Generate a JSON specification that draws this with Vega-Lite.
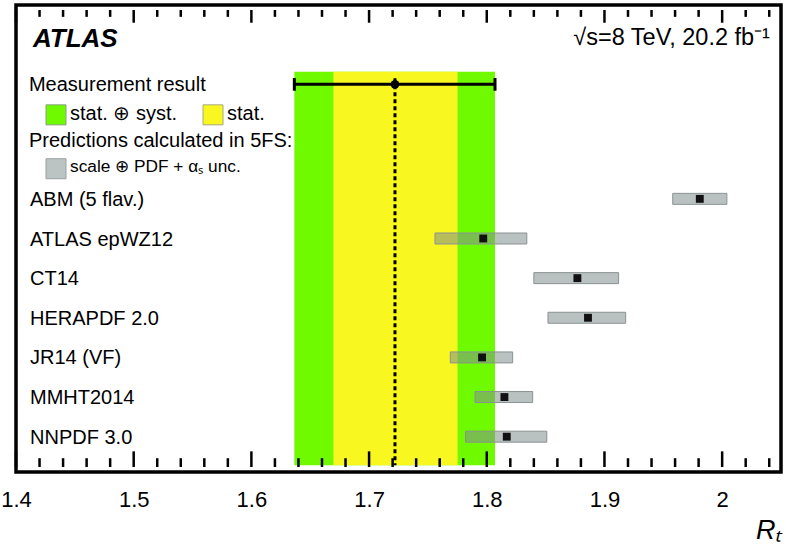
{
  "$schema": "https://vega.github.io/schema/vega-lite/v6.json",
  "width": 765,
  "height": 467,
  "autosize": {"type": "none"},
  "padding": {"left": 16, "top": 5, "right": 5, "bottom": 88},
  "background": "white",
  "config": {
    "font": "Liberation Sans",
    "view": {"stroke": "black", "strokeWidth": 3.5},
    "axis": {"zindex": 1}
  },
  "datasets": {
    "meas": [{"central": 1.722, "tot_lo": 1.6365, "tot_hi": 1.807, "stat_lo": 1.6697, "stat_hi": 1.7752}],
    "pred": [
      {"model": "ABM (5 flav.)", "rank": 1, "central": 1.981, "lo": 1.958, "hi": 2.004},
      {"model": "ATLAS epWZ12", "rank": 2, "central": 1.797, "lo": 1.756, "hi": 1.834},
      {"model": "CT14", "rank": 3, "central": 1.877, "lo": 1.84, "hi": 1.912},
      {"model": "HERAPDF 2.0", "rank": 4, "central": 1.886, "lo": 1.852, "hi": 1.918},
      {"model": "JR14 (VF)", "rank": 5, "central": 1.796, "lo": 1.769, "hi": 1.822},
      {"model": "MMHT2014", "rank": 6, "central": 1.815, "lo": 1.79, "hi": 1.839},
      {"model": "NNPDF 3.0", "rank": 7, "central": 1.817, "lo": 1.782, "hi": 1.851}
    ],
    "major_ticks": [{"v": 1.4}, {"v": 1.5}, {"v": 1.6}, {"v": 1.7}, {"v": 1.8}, {"v": 1.9}, {"v": 2.0}],
    "minor_ticks": [{"v": 1.42}, {"v": 1.44}, {"v": 1.46}, {"v": 1.48}, {"v": 1.52}, {"v": 1.54}, {"v": 1.56}, {"v": 1.58}, {"v": 1.62}, {"v": 1.64}, {"v": 1.66}, {"v": 1.68}, {"v": 1.72}, {"v": 1.74}, {"v": 1.76}, {"v": 1.78}, {"v": 1.82}, {"v": 1.84}, {"v": 1.86}, {"v": 1.88}, {"v": 1.92}, {"v": 1.94}, {"v": 1.96}, {"v": 1.98}, {"v": 2.02}, {"v": 2.04}]
  },
  "layer": [
    {
      "data": {"name": "meas"},
      "mark": {"type": "rect", "color": "#70fa00"},
      "encoding": {
        "x": {"field": "tot_lo", "type": "quantitative",
          "scale": {"domain": [1.4, 2.05], "nice": false, "zero": false},
          "axis": {"orient": "bottom", "values": [1.4, 1.5, 1.6, 1.7, 1.8, 1.9, 2], "format": "~g",
            "ticks": false, "domain": false, "grid": false, "labelFontSize": 22, "labelColor": "black",
            "labelPadding": 17, "labelBaseline": "top", "labelFlush": false, "labelOverlap": false,
            "title": "Rₜ", "titleFontSize": 27, "titleFontStyle": "italic", "titleFontWeight": "normal",
            "titleAnchor": "end", "titleAlign": "right", "titleBaseline": "top", "titlePadding": 7, "titleColor": "black"}},
        "x2": {"field": "tot_hi"},
        "y": {"datum": -2.21, "type": "quantitative", "axis": null,
          "scale": {"domain": [-3.765, 7.765], "reverse": true, "nice": false, "zero": false}},
        "y2": {"datum": 7.72}
      }
    },
    {
      "data": {"name": "meas"},
      "mark": {"type": "rect", "color": "#f8f820"},
      "encoding": {
        "x": {"field": "stat_lo", "type": "quantitative"},
        "x2": {"field": "stat_hi"},
        "y": {"datum": -2.21, "type": "quantitative"},
        "y2": {"datum": 7.72}
      }
    },
    {
      "data": {"name": "major_ticks"},
      "mark": {"type": "rule", "color": "black", "strokeWidth": 2.5},
      "encoding": {
        "x": {"field": "v", "type": "quantitative"},
        "y": {"datum": 7.765, "type": "quantitative"},
        "y2": {"datum": 7.37}
      }
    },
    {
      "data": {"name": "minor_ticks"},
      "mark": {"type": "rule", "color": "black", "strokeWidth": 2.5},
      "encoding": {
        "x": {"field": "v", "type": "quantitative"},
        "y": {"datum": 7.765, "type": "quantitative"},
        "y2": {"datum": 7.543}
      }
    },
    {
      "data": {"name": "major_ticks"},
      "mark": {"type": "rule", "color": "black", "strokeWidth": 2.5},
      "encoding": {
        "x": {"field": "v", "type": "quantitative"},
        "y": {"datum": -3.765, "type": "quantitative"},
        "y2": {"datum": -3.444}
      }
    },
    {
      "data": {"name": "minor_ticks"},
      "mark": {"type": "rule", "color": "black", "strokeWidth": 2.5},
      "encoding": {
        "x": {"field": "v", "type": "quantitative"},
        "y": {"datum": -3.765, "type": "quantitative"},
        "y2": {"datum": -3.592}
      }
    },
    {
      "data": {"name": "meas"},
      "mark": {"type": "rule", "color": "black", "strokeWidth": 3, "strokeDash": [4, 3]},
      "encoding": {
        "x": {"field": "central", "type": "quantitative"},
        "y": {"datum": -2.04, "type": "quantitative"},
        "y2": {"datum": 7.72}
      }
    },
    {
      "data": {"name": "meas"},
      "mark": {"type": "rule", "color": "black", "strokeWidth": 3},
      "encoding": {
        "x": {"field": "tot_lo", "type": "quantitative"},
        "x2": {"field": "tot_hi"},
        "y": {"datum": -1.889, "type": "quantitative"}
      }
    },
    {
      "data": {"name": "meas"},
      "mark": {"type": "rule", "color": "black", "strokeWidth": 3},
      "encoding": {
        "x": {"field": "tot_lo", "type": "quantitative"},
        "y": {"datum": -2.049, "type": "quantitative"},
        "y2": {"datum": -1.728}
      }
    },
    {
      "data": {"name": "meas"},
      "mark": {"type": "rule", "color": "black", "strokeWidth": 3},
      "encoding": {
        "x": {"field": "tot_hi", "type": "quantitative"},
        "y": {"datum": -2.049, "type": "quantitative"},
        "y2": {"datum": -1.728}
      }
    },
    {
      "data": {"name": "meas"},
      "mark": {"type": "point", "shape": "circle", "filled": true, "color": "black", "size": 75, "opacity": 1},
      "encoding": {
        "x": {"field": "central", "type": "quantitative"},
        "y": {"datum": -1.889, "type": "quantitative"}
      }
    },
    {
      "data": {"name": "pred"},
      "mark": {"type": "bar", "orient": "horizontal", "size": 11, "fill": "#7f8e8e", "fillOpacity": 0.55, "stroke": "#8a9292", "strokeWidth": 1},
      "encoding": {
        "x": {"field": "lo", "type": "quantitative"},
        "x2": {"field": "hi"},
        "y": {"field": "rank", "type": "quantitative"}
      }
    },
    {
      "data": {"name": "pred"},
      "mark": {"type": "point", "shape": "square", "filled": true, "color": "#111111", "size": 62, "opacity": 1},
      "encoding": {
        "x": {"field": "central", "type": "quantitative"},
        "y": {"field": "rank", "type": "quantitative"}
      }
    },
    {
      "data": {"name": "pred"},
      "mark": {"type": "text", "align": "left", "baseline": "alphabetic", "dy": 7, "fontSize": 20, "color": "black"},
      "encoding": {
        "x": {"datum": 1.4119, "type": "quantitative"},
        "y": {"field": "rank", "type": "quantitative"},
        "text": {"field": "model"}
      }
    },
    {
      "data": {"name": "meas"},
      "mark": {"type": "text", "text": "ATLAS", "align": "left", "baseline": "alphabetic", "fontSize": 26, "fontWeight": "bold", "fontStyle": "italic", "color": "black"},
      "encoding": {
        "x": {"datum": 1.4144, "type": "quantitative"},
        "y": {"datum": -2.82, "type": "quantitative"}
      }
    },
    {
      "data": {"name": "meas"},
      "mark": {"type": "text", "text": "√s=8 TeV, 20.2 fb⁻¹", "align": "right", "baseline": "alphabetic", "fontSize": 23.5, "color": "black"},
      "encoding": {
        "x": {"datum": 2.0406, "type": "quantitative"},
        "y": {"datum": -2.88, "type": "quantitative"}
      }
    },
    {
      "data": {"name": "meas"},
      "mark": {"type": "text", "text": "Measurement result", "align": "left", "baseline": "alphabetic", "fontSize": 20, "color": "black"},
      "encoding": {
        "x": {"datum": 1.411, "type": "quantitative"},
        "y": {"datum": -1.72, "type": "quantitative"}
      }
    },
    {
      "data": {"name": "meas"},
      "mark": {"type": "point", "shape": "square", "filled": true, "fill": "#70fa00", "stroke": "#8aa080", "strokeWidth": 1, "size": 400, "opacity": 1},
      "encoding": {
        "x": {"datum": 1.434, "type": "quantitative"},
        "y": {"datum": -1.12, "type": "quantitative"}
      }
    },
    {
      "data": {"name": "meas"},
      "mark": {"type": "text", "text": "stat. ⊕ syst.", "align": "left", "baseline": "alphabetic", "fontSize": 20, "color": "black"},
      "encoding": {
        "x": {"datum": 1.4459, "type": "quantitative"},
        "y": {"datum": -0.99, "type": "quantitative"}
      }
    },
    {
      "data": {"name": "meas"},
      "mark": {"type": "point", "shape": "square", "filled": true, "fill": "#f8f820", "stroke": "#a8a880", "strokeWidth": 1, "size": 400, "opacity": 1},
      "encoding": {
        "x": {"datum": 1.5674, "type": "quantitative"},
        "y": {"datum": -1.12, "type": "quantitative"}
      }
    },
    {
      "data": {"name": "meas"},
      "mark": {"type": "text", "text": "stat.", "align": "left", "baseline": "alphabetic", "fontSize": 20, "color": "black"},
      "encoding": {
        "x": {"datum": 1.5793, "type": "quantitative"},
        "y": {"datum": -0.99, "type": "quantitative"}
      }
    },
    {
      "data": {"name": "meas"},
      "mark": {"type": "text", "text": "Predictions calculated in 5FS:", "align": "left", "baseline": "alphabetic", "fontSize": 20, "color": "black"},
      "encoding": {
        "x": {"datum": 1.411, "type": "quantitative"},
        "y": {"datum": -0.3, "type": "quantitative"}
      }
    },
    {
      "data": {"name": "meas"},
      "mark": {"type": "point", "shape": "square", "filled": true, "fill": "#bcc3c3", "stroke": "#9aa0a0", "strokeWidth": 1, "size": 400, "opacity": 1},
      "encoding": {
        "x": {"datum": 1.434, "type": "quantitative"},
        "y": {"datum": 0.24, "type": "quantitative"}
      }
    },
    {
      "data": {"name": "meas"},
      "mark": {"type": "text", "text": "scale ⊕ PDF + αₛ unc.", "align": "left", "baseline": "alphabetic", "fontSize": 17.3, "color": "black"},
      "encoding": {
        "x": {"datum": 1.4459, "type": "quantitative"},
        "y": {"datum": 0.33, "type": "quantitative"}
      }
    }
  ]
}
